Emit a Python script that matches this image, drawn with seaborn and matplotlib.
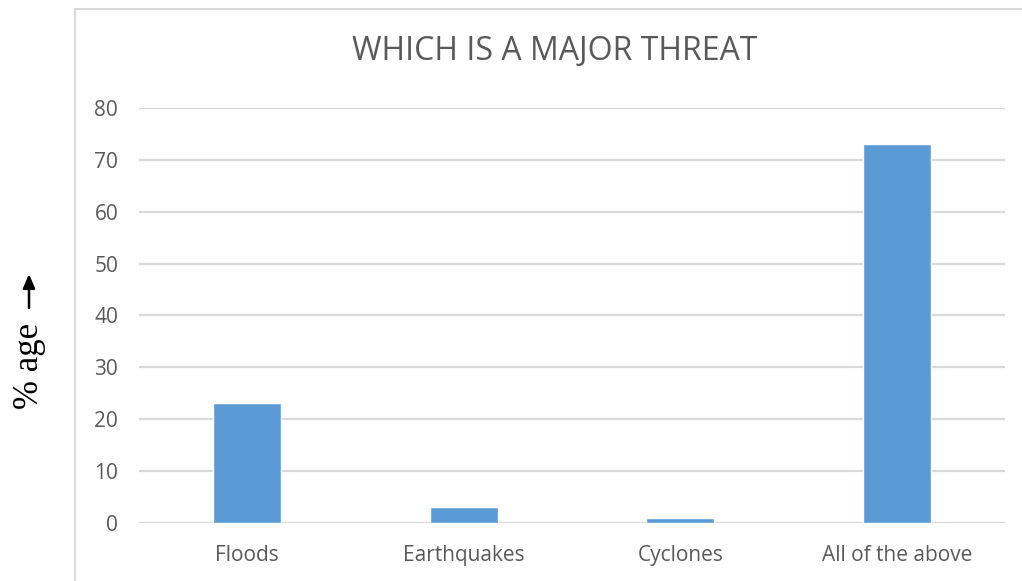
import matplotlib
matplotlib.use("Agg")
import matplotlib.pyplot as plt
import seaborn as sns
import pandas as pd
from matplotlib.lines import Line2D

categories = ["Floods", "Earthquakes", "Cyclones", "All of the above"]
percentages = [23, 3, 1, 73]
y_ticks = [0, 10, 20, 30, 40, 50, 60, 70, 80]

df = pd.DataFrame({"threat": categories, "pct": percentages})

sns.set_theme(style="white")
plt.rcParams["font.family"] = ["Open Sans", "DejaVu Sans"]

grey_txt = "#595959"
grid_col = "#D9D9D9"

fig = plt.figure(figsize=(10.22, 5.81), dpi=100)
ax = fig.add_axes([0.136, 0.1003, 0.8474, 0.7138])

sns.barplot(data=df, x="threat", y="pct", color="#5B9BD5", width=0.314,
            saturation=1, ax=ax, zorder=3)

ax.set_ylim(0, 80)
ax.set_yticks(y_ticks)
ax.set_xlim(-0.5, 3.5)
ax.yaxis.grid(True, color=grid_col, linewidth=1.6, zorder=0)
for s in ax.spines.values():
    s.set_visible(False)
ax.axhline(0, color=grid_col, linewidth=1.8, zorder=2)
ax.tick_params(axis="both", length=0, labelcolor=grey_txt, labelsize=15)
ax.tick_params(axis="y", pad=15)
ax.tick_params(axis="x", pad=16)
ax.set_xlabel("")
ax.set_ylabel("")

fig.text(555 / 1022, 1 - 52 / 581, "WHICH IS A MAJOR THREAT", ha="center", va="center",
         fontsize=23, color=grey_txt)

# y label: serif text with a bold upward arrow
fig.text(30 / 1022, 1 - 366 / 581, "% age", rotation=90, ha="center", va="center",
         fontsize=25, color="black", family=["Liberation Serif", "DejaVu Serif"])
ax.annotate("", xy=(29 / 1022, 1 - 274 / 581), xytext=(29 / 1022, 1 - 308 / 581),
            xycoords="figure fraction", textcoords="figure fraction",
            arrowprops=dict(arrowstyle="-|>,head_length=0.7,head_width=0.3",
                            color="black", lw=1.8, shrinkA=0, shrinkB=0))

# chart frame (left and top edges visible)
fig.add_artist(Line2D([75 / 1022, 75 / 1022], [0, 1 - 9 / 581], transform=fig.transFigure,
                      color=grid_col, linewidth=1.5))
fig.add_artist(Line2D([75 / 1022, 1], [1 - 9 / 581, 1 - 9 / 581], transform=fig.transFigure,
                      color=grid_col, linewidth=1.5))

fig.savefig("out.png", dpi=100, facecolor="white")
